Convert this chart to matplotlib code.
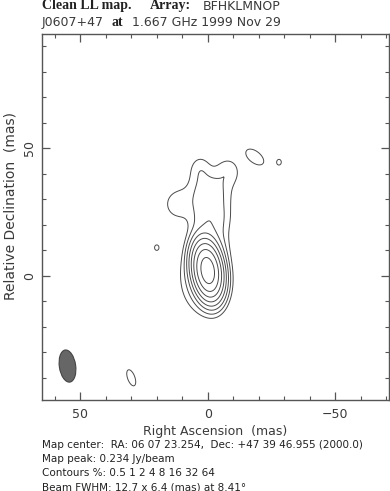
"""Clean LL map of J0607+47 at 1.667 GHz, redrawn as a contour plot."""

import numpy as np
import matplotlib

matplotlib.use("Agg")
import matplotlib.pyplot as plt
from matplotlib.patches import Ellipse
from matplotlib.ticker import MultipleLocator

# clean-style model components: RA offset, Dec offset (mas), peak (Jy/beam),
# major / minor FWHM (mas), position angle (deg, east of north)
comp_ra = [0.0, 1.0, -0.5, -1.0, -0.5, -8.0, 3.0, 12.0, -18.5, -28.0, 20.0, 30.0]
comp_dec = [2.0, -1.0, 12.0, 23.0, 33.0, 41.0, 42.0, 28.0, 46.5, 44.5, 11.0, -40.0]
comp_amp = [0.226, 0.004, 0.0036, 0.0034, 0.0031, 0.0018, 0.0016, 0.0018,
            0.0020, 0.0013, 0.0013, 0.0014]
comp_maj = [12.7, 20.0, 13.0, 12.0, 12.0, 9.0, 9.0, 10.0, 9.1, 5.0, 5.0, 12.5]
comp_min = [6.4, 14.0, 10.0, 11.5, 13.0, 8.0, 7.0, 9.0, 5.0, 4.0, 4.0, 5.4]
comp_pa = [8.41, 0.0, 0.0, 0.0, 0.0, 0.0, 0.0, 0.0, 51.0, 0.0, 0.0, 20.0]

contour_pct = [0.5, 1, 2, 4, 8, 16, 32, 64]
map_peak = 0.234

beam_ra, beam_dec = 55.0, -35.4
beam_maj, beam_min, beam_pa = 12.7, 6.4, 8.41

ink = "#3a3a3a"


def model_map(ra, dec):
    img = np.zeros_like(ra)
    for x0, y0, a, bmaj, bmin, pa in zip(comp_ra, comp_dec, comp_amp,
                                          comp_maj, comp_min, comp_pa):
        p = np.radians(pa)
        dx, dy = ra - x0, dec - y0
        u = dx * np.sin(p) + dy * np.cos(p)
        v = dx * np.cos(p) - dy * np.sin(p)
        img += a * np.exp(-4 * np.log(2) * (u ** 2 / bmaj ** 2 + v ** 2 / bmin ** 2))
    return img


ra = np.linspace(-75, 70, 581)
dec = np.linspace(-52, 98, 601)
RA, DEC = np.meshgrid(ra, dec)
img = model_map(RA, DEC)
levels = [p / 100.0 * img.max() for p in contour_pct]

fig = plt.figure(figsize=(3.9, 4.91), dpi=100)
ax = fig.add_axes([42 / 390, 1 - 400 / 491, 347 / 390, 366 / 491])

ax.contour(RA, DEC, img, levels=levels, colors="#4a4a4a", linewidths=0.7)
ax.add_patch(Ellipse((beam_ra, beam_dec), beam_min, beam_maj, angle=-beam_pa,
                     facecolor="#666666", edgecolor="#444444", lw=0.8))

ax.set_xlim(65.0, -71.1)
ax.set_ylim(-48.7, 94.7)

for side in ax.spines.values():
    side.set_color("#555555")
    side.set_linewidth(1.0)
ax.xaxis.set_major_locator(MultipleLocator(50))
ax.xaxis.set_minor_locator(MultipleLocator(10))
ax.yaxis.set_major_locator(MultipleLocator(50))
ax.yaxis.set_minor_locator(MultipleLocator(10))
ax.tick_params(which="both", direction="in", top=True, right=True,
               color="#555555", labelcolor=ink, labelsize=9)
ax.tick_params(which="major", length=6, width=0.9, pad=6)
ax.tick_params(which="minor", length=3, width=0.8)
ax.tick_params(axis="y", labelrotation=90, pad=4)
for lab in ax.get_yticklabels():
    lab.set_va("center")

ax.set_xlabel("Right Ascension  (mas)", fontsize=9, color=ink, labelpad=3)
ax.set_ylabel("Relative Declination  (mas)", fontsize=10, color=ink)
ax.yaxis.set_label_coords(-0.072, 0.53)

# title lines, mixing the bold serif and plain sans pieces
y1, y2 = 1 - 9.5 / 491, 1 - 26 / 491
serif = dict(family="Liberation Serif", weight="bold", fontsize=10,
             color="#222222", va="baseline")
sans = dict(fontsize=9, color=ink, va="baseline")
fig.text(42 / 390, y1, "Clean LL map.", **serif)
fig.text(150 / 390, y1, "Array:", **serif)
fig.text(203 / 390, y1, "BFHKLMNOP", **sans)
fig.text(42 / 390, y2, "J0607+47", **sans)
fig.text(112 / 390, y2, "at", **serif)
fig.text(132 / 390, y2, "1.667 GHz 1999 Nov 29", **sans)

info = [
    "Map center:  RA: 06 07 23.254,  Dec: +47 39 46.955 (2000.0)",
    f"Map peak: {map_peak} Jy/beam",
    "Contours %: " + " ".join(f"{p:g}" for p in contour_pct),
    "Beam FWHM: 12.7 x 6.4 (mas) at 8.41\u00b0",
]
for i, line in enumerate(info):
    fig.text(42 / 390, 1 - (445 + 14 * i) / 491, line, fontsize=7.5,
             color="#222222", va="center")

fig.savefig("out.png", dpi=100)
